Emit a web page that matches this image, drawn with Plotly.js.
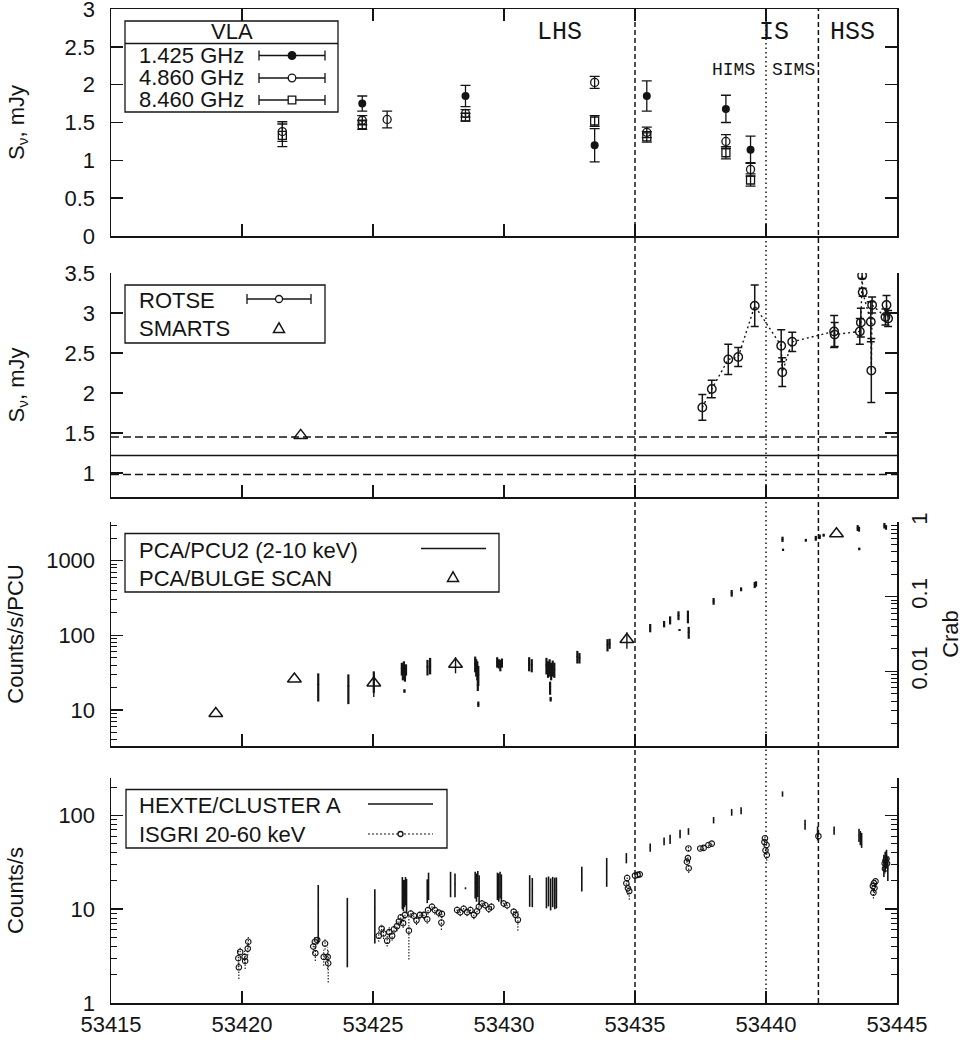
<!DOCTYPE html>
<html><head><meta charset="utf-8">
<script src="https://cdn.plot.ly/plotly-3.0.1.min.js"></script>
<style>html,body{margin:0;padding:0;background:#fff;}#chart{width:963px;height:1042px;}</style>
</head><body><div id="chart"></div>
<script>
// ---------------- DATA ----------------
// Panel 1: VLA radio flux densities (mJy)
const vla1425Mjd  = [53424.59, 53428.53, 53433.46, 53435.45, 53438.47, 53439.41];
const vla1425Flux = [1.75, 1.85, 1.20, 1.85, 1.68, 1.14];
const vla1425Err  = [0.10, 0.14, 0.22, 0.20, 0.18, 0.18];
const vla4860Mjd  = [53421.54, 53424.59, 53425.54, 53428.53, 53433.46, 53435.45, 53438.47, 53439.41];
const vla4860Flux = [1.38, 1.53, 1.54, 1.62, 2.03, 1.37, 1.25, 0.88];
const vla4860Err  = [0.13, 0.06, 0.11, 0.05, 0.08, 0.07, 0.09, 0.09];
const vla8460Mjd  = [53421.54, 53424.59, 53428.53, 53433.46, 53435.45, 53438.47, 53439.41];
const vla8460Flux = [1.33, 1.47, 1.57, 1.52, 1.31, 1.10, 0.74];
const vla8460Err  = [0.15, 0.06, 0.05, 0.07, 0.07, 0.08, 0.08];
const stateNames  = ['LHS', 'IS', 'HSS'];
const stateLabelMjd = [53432.1, 53440.3, 53443.3];
const subStateNames = ['HIMS', 'SIMS'];
const subStateMjd   = [53438.75, 53441.05];
const transitionMjd = [53435, 53440, 53442];
const mjdTicks = [53415, 53420, 53425, 53430, 53435, 53440, 53445];

// Panel 2: optical (mJy)
const rotseMjd  = [53437.57, 53437.93, 53438.56, 53438.94, 53439.57, 53440.58, 53440.62, 53441.00,
                   53442.60, 53442.62, 53443.58, 53443.62, 53443.67, 53443.69, 53444.00, 53444.02,
                   53444.05, 53444.56, 53444.60, 53444.66];
const rotseFlux = [1.82, 2.05, 2.42, 2.45, 3.09, 2.59, 2.26, 2.64,
                   2.77, 2.73, 2.77, 2.88, 3.47, 3.26, 2.89, 2.28,
                   3.10, 2.95, 3.10, 2.93];
const rotseErr  = [0.16, 0.11, 0.19, 0.12, 0.26, 0.20, 0.18, 0.12,
                   0.20, 0.15, 0.16, 0.18, 0.04, 0.05, 0.25, 0.40,
                   0.10, 0.10, 0.12, 0.10];
const smartsMjd  = [53422.24];
const smartsFlux = [1.47];
const hostLevels = [0.98, 1.22, 1.45];   // lower bound, level, upper bound

// Panel 3: PCA (counts/s/PCU)
const pcaMjd  = [53422.91, 53424.06, 53425.03, 53426.10, 53426.14, 53426.18, 53426.22, 53426.26, 53426.20,
                 53427.08, 53427.18, 53428.90, 53428.94, 53428.98, 53429.02, 53429.00, 53429.02,
                 53429.74, 53429.80, 53429.86, 53429.92, 53430.96, 53431.06,
                 53431.62, 53431.68, 53431.74, 53431.80, 53431.86, 53431.92, 53431.76, 53431.78,
                 53432.80, 53432.88, 53433.95, 53434.03, 53435.58, 53436.11, 53436.34, 53436.66, 53436.70,
                 53437.02, 53437.05, 53438.00, 53438.69, 53439.05, 53439.57, 53439.62,
                 53440.63, 53440.65, 53441.52, 53441.90, 53442.05, 53442.20,
                 53443.50, 53443.55, 53443.56, 53444.52, 53444.58];
const pcaRate = [22, 21, 25, 36, 33, 38, 31, 35, 18,
                 38, 40, 42, 38, 35, 30, 22, 12,
                 44, 42, 40, 43, 42, 40,
                 40, 36, 38, 34, 37, 35, 20, 14,
                 52, 50, 75, 78, 126, 142, 160, 185, 118,
                 180, 110, 287, 368, 415, 475, 490,
                 1940, 1400, 1880, 2000, 2100, 2200,
                 2750, 2650, 1440, 2950, 2800];
const pcaErr  = [9, 9, 8, 7, 8, 7, 7, 6, 1,
                 9, 10, 10, 10, 10, 9, 4, 1,
                 7, 6, 7, 6, 9, 8,
                 10, 9, 10, 9, 9, 8, 4, 1,
                 10, 8, 14, 12, 16, 14, 20, 25, 3,
                 35, 20, 30, 38, 25, 45, 40,
                 160, 50, 80, 150, 150, 100,
                 250, 200, 60, 250, 200];
const bulgeMjd  = [53419.00, 53422.00, 53425.03, 53428.15, 53434.69, 53442.69];
const bulgeRate = [9, 26, 23, 41, 88, 2300];
const bulgeErr  = [0, 0, 8, 10, 22, 0];

// Panel 4: hard X-rays (counts/s)
const hexteMjd  = [53422.91, 53424.02, 53425.07, 53426.12, 53426.16, 53426.20, 53426.24, 53426.28,
                   53427.07, 53427.12, 53427.96, 53428.13, 53428.53,
                   53428.90, 53428.95, 53429.00, 53429.05, 53429.75, 53429.80, 53429.85, 53429.90,
                   53430.98, 53431.08, 53431.62, 53431.70, 53431.78, 53431.86, 53431.94, 53432.00,
                   53432.97, 53433.92, 53434.67, 53435.58, 53436.11, 53436.34, 53436.72, 53437.04,
                   53438.00, 53438.69, 53439.05, 53440.63, 53441.49, 53441.97, 53442.60,
                   53443.55, 53443.60, 53443.65, 53444.50, 53444.55, 53444.60, 53444.65];
const hexteRate = [11.2, 7.8, 10.3, 16, 15, 15.5, 16.5, 15,
                   16.2, 18.5, 19.2, 18.7, 16.7,
                   19, 18, 19.5, 17, 18.5, 18, 19, 17.5,
                   16.8, 16, 16, 16.5, 15.5, 16.3, 15.8, 16,
                   21.9, 26.2, 35.2, 45.5, 53, 55.8, 63.5, 67.5,
                   89, 108, 112.5, 169, 80, 65, 69,
                   62, 58, 55, 30, 33, 35, 28];
const hexteErr  = [6.9, 5.4, 6.0, 6, 5.5, 5, 5.5, 6,
                   4.6, 6, 5.8, 5.3, 0.4,
                   6, 6, 6, 6, 6, 6, 6, 6,
                   6.2, 5.5, 5.8, 5.8, 5.8, 5.8, 5.8, 5.8,
                   6.5, 8.9, 4.4, 4.5, 5, 6.2, 6.5, 5.5,
                   7, 9, 9.5, 11, 10, 11, 7,
                   10, 10, 10, 8, 8, 8, 8];
const isgriMjd  = [53419.86, 53419.88, 53419.93, 53420.10, 53420.12, 53420.22, 53420.24,
                   53422.72, 53422.78, 53422.87, 53422.80, 53423.17, 53423.12, 53423.27, 53423.29,
                   53425.22, 53425.33, 53425.40, 53425.54, 53425.62, 53425.73, 53425.80, 53425.92, 53425.99,
                   53426.06, 53426.15, 53426.22, 53426.37, 53426.44, 53426.56, 53426.66, 53426.79, 53426.94,
                   53427.07, 53427.10, 53427.25, 53427.36, 53427.51, 53427.61, 53427.63,
                   53428.21, 53428.33, 53428.46, 53428.59, 53428.72, 53428.85, 53428.97, 53429.04,
                   53429.16, 53429.29, 53429.42, 53429.52,
                   53429.99, 53430.12, 53430.37, 53430.44, 53430.53,
                   53434.67, 53434.73, 53434.78, 53434.70, 53435.00, 53435.10, 53435.18,
                   53436.98, 53437.02, 53437.04, 53437.05, 53437.49, 53437.62, 53437.80, 53437.93,
                   53439.94, 53439.96, 53440.02, 53439.98, 53440.03, 53442.00,
                   53444.08, 53444.12, 53444.14, 53444.18, 53444.10,
                   53444.53, 53444.56, 53444.60, 53444.54, 53444.62];
const isgriRate = [3.0, 2.4, 3.5, 3.1, 2.8, 3.8, 4.5,
                   4.0, 4.5, 4.7, 3.4, 4.3, 3.1, 3.1, 2.65,
                   5.2, 6.2, 5.5, 4.6, 5.7, 5.2, 6.1, 6.6, 7.4,
                   8.2, 7.1, 8.7, 5.9, 9.0, 8.5, 7.6, 8.7, 8.7,
                   7.8, 9.8, 10.6, 9.8, 9.2, 7.2, 8.9,
                   9.8, 9.3, 10.1, 9.3, 9.8, 8.7, 9.5, 10.6,
                   11.5, 11.0, 10.1, 10.6,
                   11.5, 11.0, 9.4, 8.7, 7.7,
                   18.9, 16.7, 15.6, 21.5, 22.8, 23.2, 23.5,
                   32, 35, 44.4, 27.3, 44.4, 45.0, 48.3, 50.0,
                   52, 57, 48.3, 42.5, 37.8, 60,
                   17.6, 18.9, 16.8, 19.8, 15.0,
                   30.7, 33, 34.5, 27, 30.7];
const isgriErr  = [0.6, 0.6, 0.5, 0.5, 0.5, 0.6, 0.6,
                   0.6, 0.6, 0.5, 0.6, 0.6, 0.6, 0.8, 1.0,
                   0.7, 0.7, 0.7, 0.6, 0.7, 0.6, 0.7, 0.8, 0.8,
                   0.9, 0.8, 0.9, 3.0, 0.9, 0.9, 0.8, 0.9, 0.9,
                   0.8, 1.0, 1.0, 1.0, 1.0, 1.2, 0.9,
                   0.9, 0.9, 0.9, 0.9, 0.9, 0.9, 0.9, 1.0,
                   1.0, 1.0, 1.0, 1.0,
                   1.0, 1.0, 0.9, 0.9, 1.8,
                   2, 2.5, 3, 2, 1.5, 1.5, 1.5,
                   3, 3, 3, 3, 2, 2, 2, 2,
                   4, 4, 4, 4, 5, 5,
                   1.5, 1.5, 2, 1.5, 2,
                   3, 3, 3, 3, 3];

// ---------------- STYLE / GEOMETRY ----------------
const INK = '#141414';
const FONT = 'Liberation Sans, Arial, Helvetica, sans-serif';
const MONO = 'Liberation Mono, Courier New, monospace';
const L = 111, R = 897, T = 9, B = 1003;
const px2x = p => (p - L) / (R - L);
const py2y = p => (B - p) / (B - T);

function logMinors(lo, hi) {
  const out = [];
  for (let e = -4; e <= 4; e++) for (let m = 2; m <= 9; m++) {
    const v = m * Math.pow(10, e);
    if (v > lo * 1.0001 && v < hi * 0.9999) out.push(v);
  }
  return out;
}

const xCommon = {
  range: [53415, 53445], tickvals: mjdTicks, ticktext: mjdTicks.map(String),
  ticks: 'inside', ticklen: 12, tickwidth: 1.5, tickcolor: INK,
  showline: true, linecolor: INK, linewidth: 1.5, showgrid: false, zeroline: false,
  showticklabels: false, ticklabelstandoff: 1, ticklabeloverflow: 'allow',
  tickfont: {size: 22, family: FONT, color: INK}
};
const yCommon = {
  ticks: 'inside', ticklen: 12, tickwidth: 1.5, tickcolor: INK,
  showline: true, linecolor: INK, linewidth: 1.5, showgrid: false, zeroline: false,
  ticklabelstandoff: 10, ticklabeloverflow: 'allow', tickfont: {size: 22, family: FONT, color: INK}
};
const minorAxis = {
  ticks: 'inside', ticklen: 6, tickwidth: 1, tickcolor: INK, showline: false, showgrid: false,
  zeroline: false, showticklabels: false, type: 'log'
};

const p3lo = 3.3, p3hi = 3300;
const p4lo = 1, p4hi = 250;

// error-bar segments for ISGRI (dotted), built from the data arrays
const isgriSegX = [], isgriSegY = [];
isgriMjd.forEach((t, i) => {
  isgriSegX.push(t, t, null);
  isgriSegY.push(isgriRate[i] - isgriErr[i], isgriRate[i] + isgriErr[i], null);
});

const errStyle = (arr, w, th) => ({type: 'data', array: arr, visible: true, width: w, thickness: th, color: INK});
const ghost = (xa, ya, xs, ys) => ({x: xs, y: ys, mode: 'markers', xaxis: xa, yaxis: ya,
  marker: {opacity: 0, size: 1}, hoverinfo: 'skip', showlegend: false});

const traces = [
  {x: vla1425Mjd, y: vla1425Flux, error_y: errStyle(vla1425Err, 5, 1.3), mode: 'markers', xaxis: 'x', yaxis: 'y',
   marker: {symbol: 'circle', size: 8, color: INK}, name: '1.425 GHz'},
  {x: vla4860Mjd, y: vla4860Flux, error_y: errStyle(vla4860Err, 5, 1.3), mode: 'markers', xaxis: 'x', yaxis: 'y',
   marker: {symbol: 'circle-open', size: 8, color: INK, line: {width: 1.3}}, name: '4.860 GHz'},
  {x: vla8460Mjd, y: vla8460Flux, error_y: errStyle(vla8460Err, 5, 1.3), mode: 'markers', xaxis: 'x', yaxis: 'y',
   marker: {symbol: 'square-open', size: 8, color: INK, line: {width: 1.3}}, name: '8.460 GHz'},
  {x: rotseMjd, y: rotseFlux, error_y: errStyle(rotseErr, 4, 1.5), mode: 'lines+markers', xaxis: 'x2', yaxis: 'y2',
   line: {color: INK, width: 1.4, dash: '2px,3px'},
   marker: {symbol: 'circle-open', size: 8.5, color: INK, line: {width: 1.4}}, name: 'ROTSE'},
  {x: smartsMjd, y: smartsFlux, mode: 'markers', xaxis: 'x2', yaxis: 'y2',
   marker: {symbol: 'triangle-up-open', size: 12, color: INK, line: {width: 1.5}}, name: 'SMARTS'},
  {x: pcaMjd, y: pcaRate, error_y: errStyle(pcaErr, 0, 2.2), mode: 'markers', xaxis: 'x3', yaxis: 'y3',
   marker: {size: 2, color: INK}, name: 'PCA/PCU2 (2-10 keV)'},
  {x: bulgeMjd, y: bulgeRate, error_y: errStyle(bulgeErr, 0, 1.4), mode: 'markers', xaxis: 'x3', yaxis: 'y3',
   marker: {symbol: 'triangle-up-open', size: 12, color: INK, line: {width: 1.5}}, name: 'PCA/BULGE SCAN'},
  {x: hexteMjd, y: hexteRate, error_y: errStyle(hexteErr, 0, 1.6), mode: 'markers', xaxis: 'x4', yaxis: 'y4',
   marker: {size: 1, color: INK}, name: 'HEXTE/CLUSTER A'},
  {x: isgriSegX, y: isgriSegY, mode: 'lines', xaxis: 'x4', yaxis: 'y4', connectgaps: false,
   line: {color: INK, width: 1.1, dash: '1.5px,1.5px'}, hoverinfo: 'skip', name: 'ISGRI err'},
  {x: isgriMjd, y: isgriRate, mode: 'markers', xaxis: 'x4', yaxis: 'y4',
   marker: {symbol: 'circle-open', size: 5.5, color: INK, line: {width: 1.1}}, name: 'ISGRI 20-60 keV'},
  // invisible companions so that the Crab axis and the minor-tick axes are drawn
  ghost('x3', 'y5', pcaMjd, pcaRate.map(r => r / p3hi)),
  ghost('x3', 'y6', pcaMjd, pcaRate),
  ghost('x4', 'y7', hexteMjd, hexteRate),
  ghost('x3', 'y8', pcaMjd, pcaRate.map(r => r / p3hi))
];

// ---------------- SHAPES & ANNOTATIONS ----------------
const shapes = [], annotations = [];

const transDash = ['5px,3px', '1.5px,3px', '5px,3px'];
transitionMjd.forEach((t, i) => shapes.push({type: 'line', xref: 'x4', yref: 'paper', x0: t, x1: t, y0: 0, y1: 1,
  line: {color: INK, width: 1.5, dash: transDash[i]}, layer: 'below'}));
const hostDash = ['8px,4px', 'solid', '8px,4px'];
hostLevels.forEach((v, i) => shapes.push({type: 'line', xref: 'x2 domain', yref: 'y2', x0: 0, x1: 1, y0: v, y1: v,
  line: {color: INK, width: 1.5, dash: hostDash[i]}, layer: 'below'}));

stateNames.forEach((s, i) => annotations.push({xref: 'x', yref: 'y', x: stateLabelMjd[i], y: 2.69, text: s,
  showarrow: false, font: {family: MONO, size: 25, color: INK}}));
subStateNames.forEach((s, i) => annotations.push({xref: 'x', yref: 'y', x: subStateMjd[i], y: 2.19, text: s,
  showarrow: false, font: {family: MONO, size: 18, color: INK}}));

function rect(x0, y0, x1, y1) {
  shapes.push({type: 'rect', xref: 'paper', yref: 'paper', x0: px2x(x0), x1: px2x(x1), y0: py2y(y1), y1: py2y(y0),
    line: {color: INK, width: 1.3}, fillcolor: '#fff', layer: 'above'});
}
function seg(x0, y0, x1, y1, w, dash) {
  shapes.push({type: 'line', xref: 'paper', yref: 'paper', x0: px2x(x0), x1: px2x(x1), y0: py2y(y0), y1: py2y(y1),
    line: {color: INK, width: w || 1.3, dash: dash || 'solid'}, layer: 'above'});
}
function circ(cx, cy, r, filled) {
  shapes.push({type: 'circle', xref: 'paper', yref: 'paper', x0: px2x(cx - r), x1: px2x(cx + r), y0: py2y(cy + r), y1: py2y(cy - r),
    line: {color: INK, width: 1.3}, fillcolor: filled ? INK : '#fff', layer: 'above'});
}
function sq(cx, cy, r) {
  shapes.push({type: 'rect', xref: 'paper', yref: 'paper', x0: px2x(cx - r), x1: px2x(cx + r), y0: py2y(cy + r), y1: py2y(cy - r),
    line: {color: INK, width: 1.3}, fillcolor: '#fff', layer: 'above'});
}
function tri(cx, cy, r) {
  const p = [[cx - r, cy + r * 0.8], [cx + r, cy + r * 0.8], [cx, cy - r * 0.95]];
  shapes.push({type: 'path', xref: 'paper', yref: 'paper',
    path: 'M' + p.map(q => px2x(q[0]) + ',' + py2y(q[1])).join(' L') + ' Z',
    line: {color: INK, width: 1.5}, fillcolor: 'rgba(0,0,0,0)', layer: 'above'});
}
function errSym(x0, x1, y) { seg(x0, y, x1, y); seg(x0, y - 5, x0, y + 5); seg(x1, y - 5, x1, y + 5); }
function label(x, y, t, anchor) {
  annotations.push({xref: 'paper', yref: 'paper', x: px2x(x), y: py2y(y), text: t, showarrow: false,
    xanchor: anchor || 'left', yanchor: 'middle', borderpad: 0, font: {family: FONT, size: 22, color: INK}});
}

// VLA legend
rect(125, 21, 338, 112);
seg(125, 43.5, 338, 43.5);
label(231.5, 32, 'VLA', 'center');
label(138, 55.5, '1.425 GHz'); errSym(259, 325, 55.5); circ(292, 55.5, 3.8, true);
label(138, 78, '4.860 GHz'); errSym(259, 325, 78); circ(292, 78, 3.8, false);
label(138, 100, '8.460 GHz'); errSym(259, 325, 100); sq(292, 100, 3.8);
// optical legend
rect(125, 285, 325, 343);
label(138, 300, 'ROTSE'); errSym(247, 311, 299); circ(279, 299, 3.5, false);
label(138, 328.5, 'SMARTS'); tri(279, 328, 5.5);
// PCA legend
rect(125, 533.5, 499, 592);
label(138, 550, 'PCA/PCU2 (2-10 keV)'); seg(421, 548.5, 486, 548.5, 1.6);
label(138, 578, 'PCA/BULGE SCAN'); tri(453, 577, 5.5);
// HEXTE legend
rect(126, 789.5, 447, 848);
label(138, 805, 'HEXTE/CLUSTER A'); seg(368, 804, 433, 804, 1.6);
label(138, 834.5, 'ISGRI 20-60 keV'); seg(368, 834, 433, 834, 1.2, '2px,2px'); circ(400.5, 834, 2.5, false);

const titleFont = {size: 22, family: FONT, color: INK};
const d3 = [py2y(746), py2y(522)];
const layout = {
  width: 963, height: 1042,
  margin: {l: L, r: 963 - R, t: T, b: 1042 - B},
  paper_bgcolor: '#fff', plot_bgcolor: 'rgba(0,0,0,0)',
  showlegend: false,
  font: {family: FONT, size: 22, color: INK},
  xaxis:  Object.assign({}, xCommon, {anchor: 'y',  mirror: 'ticks'}),
  xaxis2: Object.assign({}, xCommon, {anchor: 'y2', mirror: false}),
  xaxis3: Object.assign({}, xCommon, {anchor: 'y3', mirror: false}),
  xaxis4: Object.assign({}, xCommon, {anchor: 'y4', mirror: false, showticklabels: true}),
  yaxis: Object.assign({}, yCommon, {domain: [py2y(236), py2y(9)], anchor: 'x', range: [0, 3], mirror: 'ticks',
    tickvals: [0, 0.5, 1, 1.5, 2, 2.5, 3], title: {text: 'S<sub>ν</sub>, mJy', font: titleFont, standoff: 34}}),
  yaxis2: Object.assign({}, yCommon, {domain: [py2y(497), py2y(273)], anchor: 'x2', range: [0.7, 3.5], mirror: 'ticks',
    tickvals: [1, 1.5, 2, 2.5, 3, 3.5], title: {text: 'S<sub>ν</sub>, mJy', font: titleFont, standoff: 34}}),
  yaxis3: Object.assign({}, yCommon, {domain: d3, anchor: 'x3', type: 'log',
    range: [Math.log10(p3lo), Math.log10(p3hi)], mirror: false,
    tickvals: [10, 100, 1000], ticktext: ['10', '100', '1000'],
    title: {text: 'Counts/s/PCU', font: titleFont, standoff: 16}}),
  yaxis5: Object.assign({}, yCommon, {overlaying: 'y3', anchor: 'x3', side: 'right', type: 'log',
    range: [Math.log10(p3lo / p3hi), 0], tickvals: [0.01, 0.1, 1], ticktext: ['0.01', '0.1', '1'], tickangle: -90,
    ticklabelstandoff: 2, title: {text: 'Crab', font: titleFont, standoff: 14}}),
  yaxis6: Object.assign({}, minorAxis, {overlaying: 'y3', anchor: 'x3', side: 'left',
    range: [Math.log10(p3lo), Math.log10(p3hi)], tickvals: logMinors(p3lo, p3hi)}),
  yaxis8: Object.assign({}, minorAxis, {overlaying: 'y3', anchor: 'x3', side: 'right',
    range: [Math.log10(p3lo / p3hi), 0], tickvals: logMinors(p3lo / p3hi, 1)}),
  yaxis4: Object.assign({}, yCommon, {domain: [0, py2y(778)], anchor: 'x4', type: 'log',
    range: [Math.log10(p4lo), Math.log10(p4hi)], mirror: 'ticks',
    tickvals: [1, 10, 100], ticktext: ['1', '10', '100'],
    title: {text: 'Counts/s', font: titleFont, standoff: 28}}),
  yaxis7: Object.assign({}, minorAxis, {overlaying: 'y4', anchor: 'x4', side: 'left', mirror: 'ticks',
    range: [Math.log10(p4lo), Math.log10(p4hi)], tickvals: logMinors(p4lo, p4hi)}),
  shapes: shapes,
  annotations: annotations
};

Plotly.newPlot('chart', traces, layout, {displayModeBar: false, staticPlot: true});
</script>
</body></html>
